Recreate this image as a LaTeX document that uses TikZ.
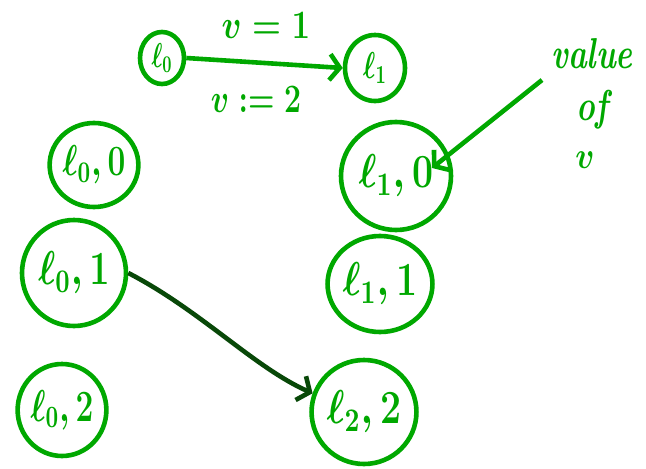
\documentclass[tikz,border=0pt]{standalone}
\usepackage{graphicx}
\usetikzlibrary{shapes.geometric,arrows.meta}
\definecolor{pen}{RGB}{0,168,0}
\definecolor{darkpen}{RGB}{8,72,8}
\newcommand{\hw}[3]{\scalebox{#1}[#2]{\boldmath#3}}
\tikzset{
  loc/.style={ellipse, draw=pen, line width=4.6pt, text=pen, inner sep=0pt, font=\Large},
  lbl/.style={text=pen, font=\Large\bfseries\itshape},
  edge/.style={line width=4.6pt, draw=pen, -{Straight Barb[length=10pt,width=26pt,line width=4.6pt]}},
  darkedge/.style={line width=4.6pt, draw=darkpen, -{Straight Barb[length=10pt,width=26pt,line width=4.6pt]}}
}
\begin{document}
\begin{tikzpicture}[x=1pt,y=-1pt]
\useasboundingbox (0,0) rectangle (646,469);
% top pair
\node[loc, minimum width=44pt, minimum height=52pt] (l0) at (162,58) {\hw{1.6}{2.4}{$\ell_0$}};
\node[loc, minimum width=60pt, minimum height=66pt] (l1) at (375,68) {\hw{1.8}{2.6}{$\ell_1$}};
\draw[edge] (l0.east) -- (l1.west);
\node[lbl] (g1) at (266,26) {\hw{2.3}{2.8}{$v = 1$}};
\node[lbl] (g2) at (256,100) {\hw{2.1}{2.8}{$v := 2$}};
% left column
\node[loc, minimum width=86pt, minimum height=84pt] (l00) at (94,165) {\hw{2.2}{3.0}{$\ell_0,0$}};
\node[loc, minimum width=104pt, minimum height=106pt] (l01) at (74,273) {\hw{2.5}{3.3}{$\ell_0,1$}};
\node[loc, minimum width=86pt, minimum height=92pt] (l02) at (62,410) {\hw{2.2}{3.1}{$\ell_0,2$}};
% right column
\node[loc, minimum width=110pt, minimum height=108pt] (l10) at (396,176) {\hw{2.6}{3.3}{$\ell_1,0$}};
\node[loc, minimum width=104pt, minimum height=96pt] (l11) at (380,284) {\hw{2.6}{3.3}{$\ell_1,1$}};
\node[loc, minimum width=104pt, minimum height=104pt] (l22) at (364,412) {\hw{2.6}{3.3}{$\ell_2,2$}};
% value of v annotation
\node[lbl] (val) at (592,54) {\hw{2.2}{3.0}{value}};
\node[lbl] (valof) at (592,110) {\hw{2.2}{3.0}{of}};
\node[lbl] (valv) at (585,160) {\hw{2.2}{2.6}{$v$}};
\coordinate (vs) at (542,80);
\draw[edge] (vs) -- (432,168);
% dark connector
\draw[darkedge] (l01.east) .. controls (200,310) and (255,368) .. (l22.160);
\end{tikzpicture}
\end{document}
